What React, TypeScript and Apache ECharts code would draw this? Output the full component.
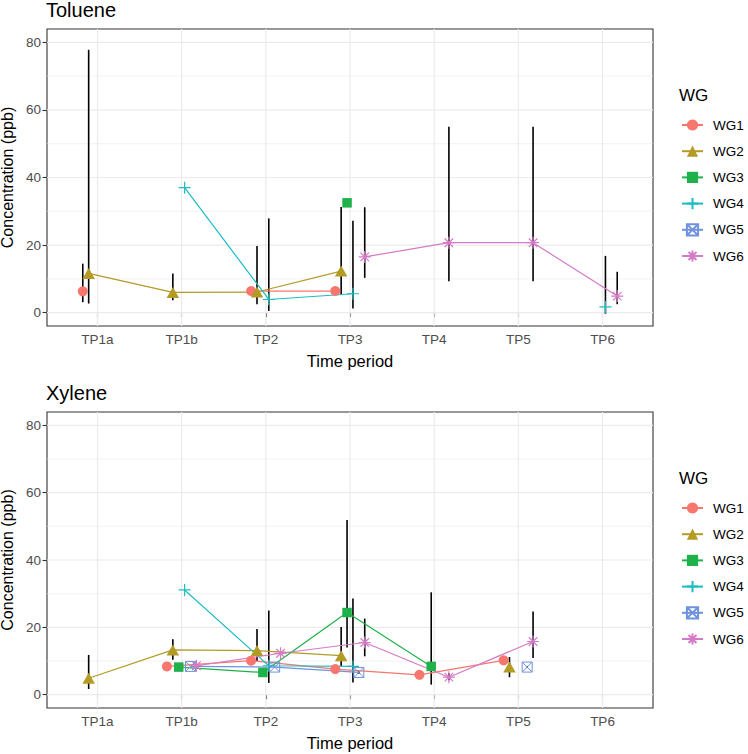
import React, { useEffect, useRef } from "react";
import * as echarts from "echarts";

// ---------- data ----------
const categories = ["TP1a", "TP1b", "TP2", "TP3", "TP4", "TP5", "TP6"];
const groups = ["WG1", "WG2", "WG3", "WG4", "WG5", "WG6"];
const groupColors = ["#F8766D", "#B39B26", "#1FB24A", "#1CBDC2", "#6E93DC", "#D57AC6"];
const dodgeOffsets = [-0.175, -0.105, -0.035, 0.035, 0.105, 0.175];
const xTicks = [1, 2, 3, 4, 5, 6, 7];
const yMajorTicks = [0, 20, 40, 60, 80];
const yMinorTicks = [10, 30, 50, 70];

type N = number | null;
// rows: WG1..WG6, columns: TP1a..TP6
const tolueneMean: N[][] = [
  [6.3, null, 6.4, 6.4, null, null, null],
  [11.6, 6.0, 6.1, 12.3, null, null, null],
  [null, null, null, 32.5, null, null, null],
  [null, 37.0, 3.9, 5.6, null, null, 1.7],
  [null, null, null, null, null, null, null],
  [null, null, null, 16.5, 20.7, 20.7, 4.9],
];
const tolueneLower: N[][] = [
  [3.1, null, null, null, null, null, null],
  [2.7, 3.7, 2.5, 5.4, null, null, null],
  [null, null, null, null, null, null, null],
  [null, null, 0.5, 1.2, null, null, -0.3],
  [null, null, null, null, null, null, null],
  [null, null, null, 10.3, 9.3, 9.3, 2.5],
];
const tolueneUpper: N[][] = [
  [14.5, null, null, null, null, null, null],
  [77.8, 11.6, 19.7, 31.3, null, null, null],
  [null, null, null, null, null, null, null],
  [null, null, 27.9, 27.2, null, null, 16.8],
  [null, null, null, null, null, null, null],
  [null, null, null, 31.2, 55.0, 55.0, 12.1],
];

const xyleneMean: N[][] = [
  [null, 8.4, 10.1, 7.6, 5.9, 10.2, null],
  [4.9, 13.3, 13.1, 11.6, null, 8.2, null],
  [null, 8.2, 6.6, 24.4, 8.4, null, null],
  [null, 31.1, 8.6, 8.4, null, null, null],
  [null, 8.4, 8.2, 6.6, null, 8.2, null],
  [null, 8.6, 12.3, 15.5, 5.2, 15.8, null],
];
const xyleneLower: N[][] = [
  [null, null, null, null, null, null, null],
  [1.7, 10.4, 10.0, 8.5, null, 5.2, null],
  [null, null, null, 14.0, 3.0, null, null],
  [null, null, 3.5, 3.6, null, null, null],
  [null, null, null, 6.2, null, 7.9, null],
  [null, null, null, 11.4, 4.3, 10.9, null],
];
const xyleneUpper: N[][] = [
  [null, null, null, null, null, null, null],
  [11.8, 16.5, 19.5, 20.1, null, 11.2, null],
  [null, null, null, 51.9, 30.4, null, null],
  [null, null, 25.0, 28.6, null, null, null],
  [null, null, null, 7.0, null, 8.5, null],
  [null, null, null, 22.6, 6.4, 24.7, null],
];

// ---------- styling ----------
const FONT = "'Liberation Sans', Arial, sans-serif";
const symbols = [
  "circle",
  "triangle",
  "rect",
  "path://M6 0L6 12M0 6L12 6",
  "path://M0 0L10 0L10 10L0 10ZM0 0L10 10M10 0L0 10",
  "path://M6 0L6 12M0 6L12 6M1.76 1.76L10.24 10.24M10.24 1.76L1.76 10.24",
];
const symbolSizes: any[] = [10, [12.5, 11], 9.5, 12, 10, 12];

function itemStyleFor(g: number) {
  const c = groupColors[g];
  if (g <= 2) return { color: c, borderWidth: 0 };
  if (g === 4) return { color: "rgba(0,0,0,0)", borderColor: c, borderWidth: 1 };
  return { color: c, borderColor: c, borderWidth: 1.2 };
}

const panels = [
  { top: 29, height: 297, mean: tolueneMean, lower: tolueneLower, upper: tolueneUpper },
  { top: 412, height: 296, mean: xyleneMean, lower: xyleneLower, upper: xyleneUpper },
];

function buildOption() {
  const grid: any[] = [];
  const xAxis: any[] = [];
  const yAxis: any[] = [];
  const series: any[] = [];
  const legend: any[] = [];

  const gridData = [
    ...yMajorTicks.map((v) => [v, 0]),
    ...yMinorTicks.map((v) => [v, 1]),
    ...xTicks.map((v) => [v, 2]),
  ];

  panels.forEach((p, pi) => {
    grid.push({
      left: 47,
      top: p.top,
      width: 606,
      height: p.height,
      containLabel: false,
      outerBoundsMode: "none",
      show: true,
      borderColor: "#333333",
      borderWidth: 1.1,
      backgroundColor: "#FFFFFF",
      z: 0,
    });
    xAxis.push({
      type: "value",
      gridIndex: pi,
      min: 0.4,
      max: 7.6,
      splitLine: { show: false },
      axisLine: { show: false },
      axisTick: {
        show: true,
        customValues: xTicks,
        length: 4.5,
        lineStyle: { color: "#333333", width: 1.1 },
      },
      axisLabel: {
        customValues: xTicks,
        formatter: (v: number) => categories[Math.round(v) - 1] ?? "",
        color: "#4D4D4D",
        fontSize: 13.5,
        fontFamily: FONT,
        margin: 6,
      },
      name: "Time period",
      nameLocation: "middle",
      nameGap: 26,
      nameTextStyle: { fontSize: 16.5, color: "#000", fontFamily: FONT },
    });
    yAxis.push({
      type: "value",
      gridIndex: pi,
      min: -3.95,
      max: 83.95,
      splitLine: { show: false },
      axisLine: { show: false },
      axisTick: {
        show: true,
        customValues: yMajorTicks,
        length: 4.5,
        lineStyle: { color: "#333333", width: 1.1 },
      },
      axisLabel: {
        customValues: yMajorTicks,
        color: "#4D4D4D",
        fontSize: 13.5,
        fontFamily: FONT,
        margin: 6,
      },
      name: "Concentration (ppb)",
      nameLocation: "middle",
      nameGap: 27,
      nameRotate: 90,
      nameTextStyle: { fontSize: 16, color: "#000", fontFamily: FONT },
    });

    // gridlines
    series.push({
      type: "custom",
      name: "grid" + pi,
      xAxisIndex: pi,
      yAxisIndex: pi,
      silent: true,
      z: 1,
      data: gridData,
      renderItem: (params: any, api: any) => {
        const cs = params.coordSys;
        const v = api.value(0);
        const kind = api.value(1);
        if (kind === 2) {
          const pt = api.coord([v, 0]);
          return {
            type: "line",
            shape: { x1: pt[0], y1: cs.y, x2: pt[0], y2: cs.y + cs.height },
            style: { stroke: "#EBEBEB", lineWidth: 1.2 },
          };
        }
        const pt = api.coord([1, v]);
        return {
          type: "line",
          shape: { x1: cs.x, y1: pt[1], x2: cs.x + cs.width, y2: pt[1] },
          style: { stroke: "#EBEBEB", lineWidth: kind === 0 ? 1.2 : 0.6 },
        };
      },
    });

    // error bars
    const ebData: number[][] = [];
    groups.forEach((_, g) => {
      categories.forEach((__, i) => {
        const lo = p.lower[g][i];
        const hi = p.upper[g][i];
        if (lo != null && hi != null) ebData.push([i + 1 + dodgeOffsets[g], lo, hi]);
      });
    });
    series.push({
      type: "custom",
      name: "errorbars" + pi,
      xAxisIndex: pi,
      yAxisIndex: pi,
      silent: true,
      z: 2,
      encode: { x: 0, y: [1, 2] },
      data: ebData,
      renderItem: (params: any, api: any) => {
        const a = api.coord([api.value(0), api.value(1)]);
        const b = api.coord([api.value(0), api.value(2)]);
        return {
          type: "line",
          shape: { x1: a[0], y1: a[1], x2: b[0], y2: b[1] },
          style: { stroke: "#000000", lineWidth: 1.6 },
        };
      },
    });

    // lines + points
    groups.forEach((name, g) => {
      series.push({
        type: "line",
        name,
        xAxisIndex: pi,
        yAxisIndex: pi,
        z: 3,
        connectNulls: false,
        showSymbol: true,
        symbol: symbols[g],
        symbolSize: symbolSizes[g],
        itemStyle: itemStyleFor(g),
        lineStyle: { color: groupColors[g], width: 1.2 },
        data: p.mean[g].map((v, i) => [i + 1 + dodgeOffsets[g], v == null ? "-" : v]),
      });
    });

    legend.push({
      data: groups,
      orient: "vertical",
      left: 681,
      top: pi === 0 ? 118 : 501,
      padding: 0,
      itemWidth: 21,
      itemHeight: 14,
      itemGap: 12.2,
      selectedMode: false,
      textStyle: { fontSize: 13.5, color: "#000", fontFamily: FONT, padding: [0, 0, 0, 5] },
    });
  });

  return {
    animation: false,
    backgroundColor: "#FFFFFF",
    textStyle: { fontFamily: FONT },
    title: [
      { text: "Toluene", left: 46, top: 0, padding: 0, textStyle: { fontSize: 20, fontWeight: "normal", color: "#000", fontFamily: FONT } },
      { text: "Xylene", left: 46, top: 383, padding: 0, textStyle: { fontSize: 20, fontWeight: "normal", color: "#000", fontFamily: FONT } },
      { text: "WG", left: 679, top: 87, padding: 0, textStyle: { fontSize: 17, fontWeight: "normal", color: "#000", fontFamily: FONT } },
      { text: "WG", left: 679, top: 470, padding: 0, textStyle: { fontSize: 17, fontWeight: "normal", color: "#000", fontFamily: FONT } },
    ],
    grid,
    xAxis,
    yAxis,
    legend,
    series,
  };
}

export default function App() {
  const ref = useRef<HTMLDivElement>(null);
  useEffect(() => {
    if (!ref.current) return;
    const chart = echarts.init(ref.current, undefined, { renderer: "svg" });
    chart.setOption(buildOption() as any);
    return () => chart.dispose();
  }, []);
  return (
    <div
      ref={ref}
      style={{ position: "fixed", left: 0, top: 0, width: 748, height: 754, background: "#fff" }}
    />
  );
}
